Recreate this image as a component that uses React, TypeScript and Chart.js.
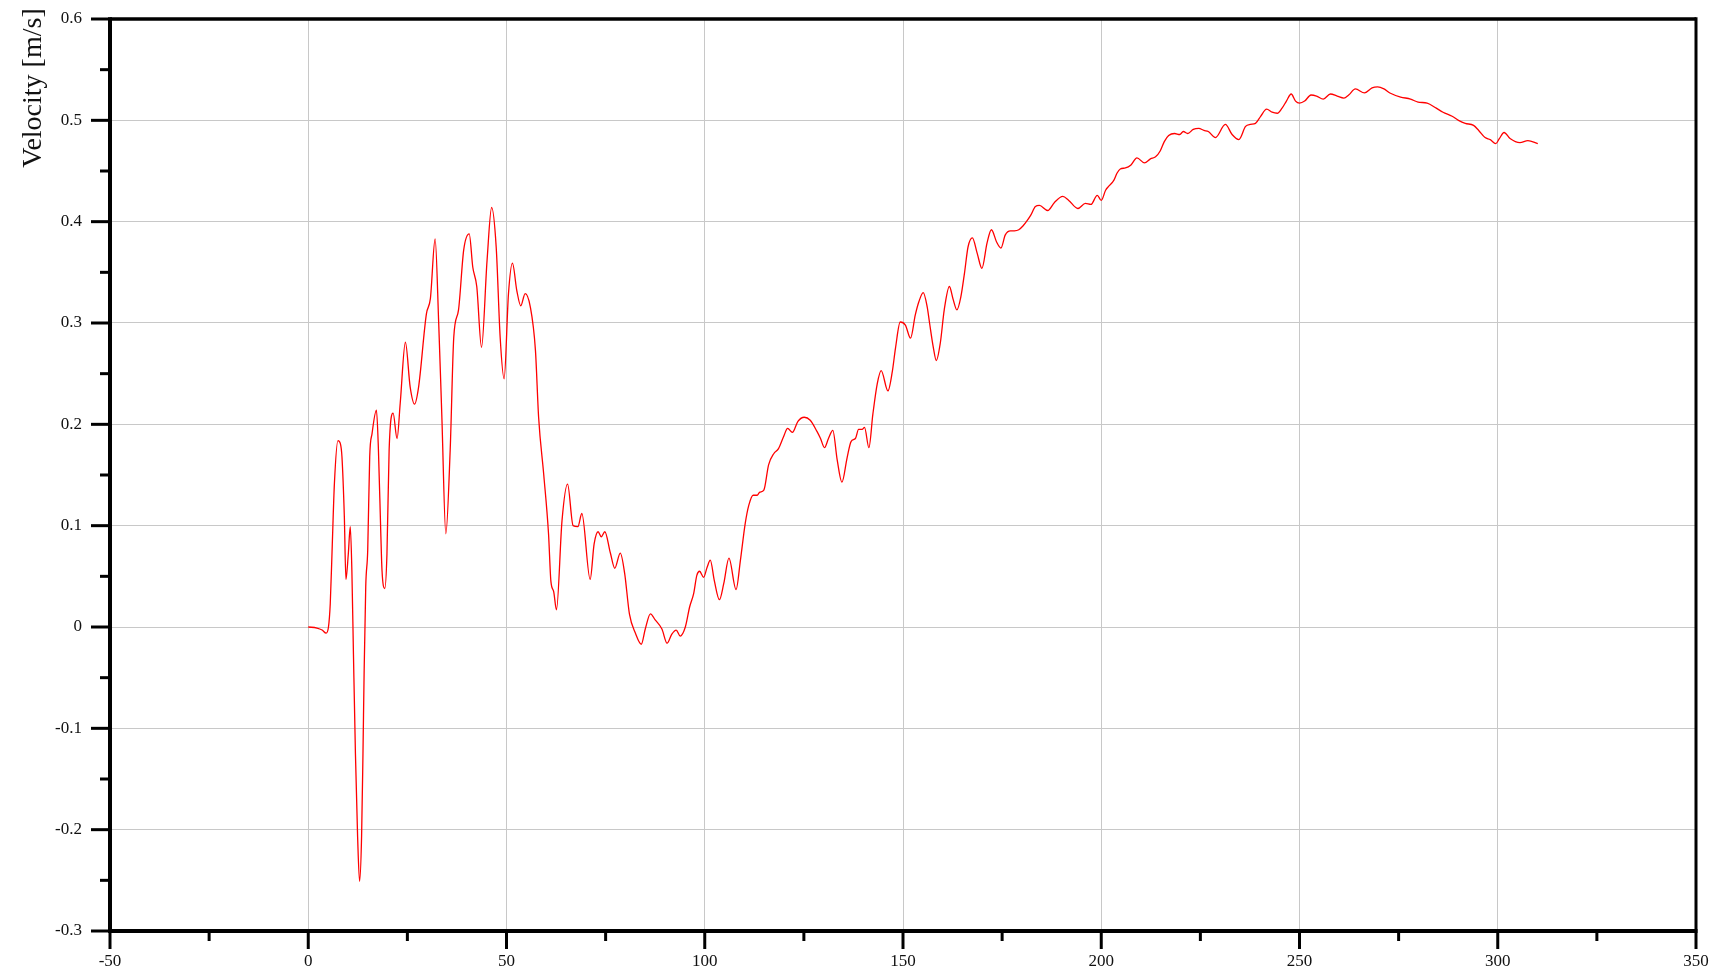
import React, { useEffect, useRef } from 'react';
import { Chart, registerables } from 'chart.js';

Chart.register(...registerables);

// ---- data (time [s] vs velocity [m/s]) ----
const timeValues: number[] = [
  0, 2.2, 3.5, 4.5, 5.1, 5.55, 6.0, 6.6, 7.5, 8.1, 8.5, 9.1, 9.5, 10.1, 10.6, 11.0, 11.4, 11.9, 12.45, 12.95,
  13.45, 13.8, 14.1, 14.5, 15.0, 15.5, 16.1, 17.2, 17.7, 18.3, 18.6, 19.3, 19.85, 20.4, 21.4, 22.4, 23.2, 24.5,
  25.7, 26.8, 27.8, 29.8, 30.8, 32.0, 32.9, 33.7, 34.7, 35.8, 36.7, 37.9, 39.2, 40.6, 41.5, 42.5, 43.7, 45.1,
  46.25, 47.4, 48.4, 49.4, 50.5, 51.5, 52.6, 53.6, 54.7, 56.0, 57.3, 58.1, 59.4, 60.6, 61.2, 61.9, 62.6, 64.0,
  65.4, 66.8, 68.0, 69.0, 71.1, 72.1, 73.1, 73.9, 74.8, 76.2, 77.3, 78.7, 79.8, 81.0, 82.5, 84.0, 85.0, 86.3,
  87.5, 89.2, 90.5, 91.7, 92.8, 93.8, 95.1, 96.2, 97.2, 98.0, 98.7, 99.7, 100.6, 101.4, 102.4, 103.7, 104.8,
  106.1, 107.9, 109.0, 110.2, 111.1, 112.2, 113.2, 113.9, 114.9, 116.1, 117.4, 118.6, 119.9, 120.9, 122.1,
  123.5, 125.1, 126.6, 128.3, 129.2, 130.2, 131.2, 132.3, 133.4, 134.6, 135.9, 136.9, 138.0, 138.8, 139.7,
  140.3, 141.4, 142.4, 143.5, 144.5, 146.2, 147.3, 148.1, 149.3, 150.6, 151.9, 153.1, 154.0, 155.1, 156.1,
  156.7, 157.6, 158.4, 159.4, 160.4, 161.7, 162.6, 163.6, 164.6, 165.5, 166.4, 167.5, 168.7, 169.9, 171.2,
  172.3, 173.6, 174.7, 175.8, 177.1, 178.1, 179.2, 180.3, 181.3, 182.3, 183.4, 184.4, 186.5, 188.2, 190.3,
  191.8, 194.1, 196.0, 197.4, 199.0, 200.0, 201.1, 201.9, 203.2, 204.0, 204.8, 206.1, 207.5, 209.0, 210.9,
  212.4, 213.7, 214.9, 215.9, 217.0, 218.5, 219.8, 220.7, 221.8, 223.2, 224.6, 225.9, 227.0, 228.8, 231.3,
  233.0, 234.7, 236.4, 237.6, 238.9, 240.2, 241.7, 243.1, 244.4, 245.6, 246.7, 247.9, 249.0, 250.0, 251.3,
  252.9, 254.3, 256.0, 257.8, 259.5, 261.2, 262.4, 264.1, 266.4, 268.3, 269.7, 271.3, 272.8, 275.5, 278.0,
  279.9, 282.2, 284.5, 286.2, 288.5, 290.1, 291.8, 293.9, 295.2, 296.8, 298.1, 299.5, 300.4, 301.6, 303.1,
  305.6, 307.6, 310.1,
];

const velocityValues: number[] = [
  0, -0.001, -0.003, -0.006, 0, 0.023, 0.074, 0.142, 0.184, 0.181, 0.168, 0.109, 0.047, 0.072, 0.099, 0.056, -0.027, -0.125, -0.207, -0.251,
  -0.207, -0.125, -0.043, 0.040, 0.076, 0.168, 0.191, 0.214, 0.175, 0.092, 0.056, 0.038, 0.072, 0.175, 0.211, 0.186, 0.221, 0.281,
  0.237, 0.220, 0.236, 0.309, 0.324, 0.383, 0.300, 0.207, 0.092, 0.175, 0.286, 0.313, 0.372, 0.388, 0.355, 0.336, 0.276, 0.362,
  0.414, 0.375, 0.286, 0.245, 0.329, 0.359, 0.332, 0.317, 0.329, 0.316, 0.273, 0.207, 0.150, 0.092, 0.045, 0.035, 0.017, 0.105,
  0.141, 0.100, 0.099, 0.112, 0.047, 0.082, 0.094, 0.089, 0.094, 0.073, 0.058, 0.073, 0.053, 0.013, -0.006, -0.017, -0.002, 0.013,
  0.007, -0.002, -0.016, -0.007, -0.003, -0.009, 0.0, 0.020, 0.033, 0.051, 0.055, 0.049, 0.059, 0.066, 0.046, 0.027, 0.043,
  0.068, 0.037, 0.066, 0.102, 0.120, 0.130, 0.130, 0.133, 0.135, 0.160, 0.171, 0.176, 0.188, 0.196, 0.192,
  0.203, 0.207, 0.204, 0.193, 0.186, 0.177, 0.186, 0.194, 0.165, 0.143, 0.167, 0.183, 0.186, 0.195, 0.195,
  0.197, 0.177, 0.210, 0.240, 0.253, 0.233, 0.252, 0.275, 0.301, 0.298, 0.285, 0.308, 0.321, 0.330, 0.316,
  0.300, 0.277, 0.263, 0.280, 0.313, 0.336, 0.324, 0.313, 0.326, 0.349, 0.375, 0.384, 0.369, 0.354, 0.379,
  0.392, 0.380, 0.374, 0.387, 0.391, 0.391, 0.392, 0.396, 0.401, 0.407, 0.415, 0.416, 0.411, 0.419, 0.425,
  0.421, 0.413, 0.418, 0.417, 0.426, 0.421, 0.431, 0.435, 0.441, 0.448, 0.452, 0.453, 0.456, 0.463, 0.458,
  0.462, 0.464, 0.470, 0.479, 0.485, 0.487, 0.486, 0.489, 0.487, 0.491, 0.492, 0.490, 0.489, 0.483, 0.496,
  0.486, 0.481, 0.494, 0.496, 0.497, 0.504, 0.511, 0.508, 0.507, 0.512, 0.519, 0.526, 0.519, 0.517, 0.519,
  0.525, 0.524, 0.521, 0.526, 0.524, 0.522, 0.525, 0.531, 0.527, 0.532, 0.533, 0.531, 0.527, 0.523, 0.521,
  0.518, 0.517, 0.512, 0.508, 0.504, 0.500, 0.497, 0.495, 0.490, 0.483, 0.481, 0.477, 0.482, 0.488, 0.482,
  0.478, 0.480, 0.477,
];

const xMajorTicks: number[] = [-50, 0, 50, 100, 150, 200, 250, 300, 350];
const yMajorTicks: number[] = [-0.3, -0.2, -0.1, 0, 0.1, 0.2, 0.3, 0.4, 0.5, 0.6];
const yAxisTitle = 'Velocity [m/s]';

const SERIF = '"Liberation Serif", "Times New Roman", serif';

const isMajor = (list: number[], v: number) => list.some((m) => Math.abs(m - v) < 1e-6);

const clearScalePadding = (s: any) => {
  s.paddingTop = 0;
  s.paddingBottom = 0;
  s.paddingLeft = 0;
  s.paddingRight = 0;
};

export default function App() {
  const ref = useRef<HTMLCanvasElement>(null);

  useEffect(() => {
    document.body.style.margin = '0';
    const canvas = ref.current;
    if (!canvas) return;

    const points = timeValues.map((t, i) => ({ x: t, y: velocityValues[i] }));

    const framePlugin = {
      id: 'frameAndTicks',
      afterDraw(chart: any) {
        const { ctx, chartArea: a, scales } = chart;
        const xs = scales.x;
        const ys = scales.y;
        ctx.save();
        ctx.strokeStyle = '#000';
        ctx.lineCap = 'butt';
        ctx.lineWidth = 3;
        ys.ticks.forEach((t: any, i: number) => {
          const py = ys.getPixelForTick(i);
          const len = isMajor(yMajorTicks, t.value) ? 19 : 10;
          ctx.beginPath();
          ctx.moveTo(a.left - len, py);
          ctx.lineTo(a.left, py);
          ctx.stroke();
        });
        xs.ticks.forEach((t: any, i: number) => {
          const px = xs.getPixelForTick(i);
          const len = isMajor(xMajorTicks, t.value) ? 18 : 10;
          ctx.beginPath();
          ctx.moveTo(px, a.bottom);
          ctx.lineTo(px, a.bottom + len);
          ctx.stroke();
        });
        // top and right frame
        ctx.lineWidth = 3.5;
        ctx.beginPath();
        ctx.moveTo(a.left, a.top);
        ctx.lineTo(a.right, a.top);
        ctx.stroke();
        ctx.lineWidth = 3;
        ctx.beginPath();
        ctx.moveTo(a.right, a.top - 1.75);
        ctx.lineTo(a.right, a.bottom);
        ctx.stroke();
        // left and bottom axes
        ctx.lineWidth = 4;
        ctx.beginPath();
        ctx.moveTo(a.left, a.top - 1.75);
        ctx.lineTo(a.left, a.bottom + 2);
        ctx.stroke();
        ctx.beginPath();
        ctx.moveTo(a.left - 2, a.bottom);
        ctx.lineTo(a.right + 1.5, a.bottom);
        ctx.stroke();
        // y axis title
        ctx.fillStyle = '#111';
        ctx.font = `28px ${SERIF}`;
        ctx.textAlign = 'center';
        ctx.textBaseline = 'middle';
        ctx.translate(34, 88);
        ctx.rotate(-Math.PI / 2);
        ctx.fillText(yAxisTitle, 0, 0);
        ctx.restore();
      },
    };

    const chart = new Chart(canvas, {
      type: 'line',
      data: {
        datasets: [
          {
            data: points,
            borderColor: '#ff0000',
            borderWidth: 1.3,
            pointRadius: 0,
            fill: false,
            cubicInterpolationMode: 'monotone',
          } as any,
        ],
      },
      options: {
        animation: false,
        responsive: false,
        devicePixelRatio: 1,
        layout: { padding: { left: 0, top: 19, right: 26, bottom: 0 } },
        plugins: { legend: { display: false }, tooltip: { enabled: false } },
        scales: {
          x: {
            type: 'linear',
            min: -50,
            max: 350,
            afterFit: (s: any) => {
              s.height = 49;
              clearScalePadding(s);
            },
            ticks: {
              stepSize: 25,
              autoSkip: false,
              maxRotation: 0,
              padding: 20,
              color: '#111',
              font: { family: SERIF, size: 17 },
              callback: (v: any) => (isMajor(xMajorTicks, Number(v)) ? String(Math.round(Number(v))) : ''),
            },
            grid: {
              drawTicks: false,
              lineWidth: 1,
              color: (c: any) => (c.tick && isMajor(xMajorTicks, c.tick.value) ? '#c8c8c8' : 'rgba(0,0,0,0)'),
            },
            border: { display: false },
          },
          y: {
            type: 'linear',
            min: -0.3,
            max: 0.6,
            afterFit: (s: any) => {
              s.width = 110;
              clearScalePadding(s);
            },
            ticks: {
              stepSize: 0.05,
              autoSkip: false,
              padding: 28,
              color: '#111',
              font: { family: SERIF, size: 17 },
              callback: (v: any) => (isMajor(yMajorTicks, Number(v)) ? String(Math.round(Number(v) * 10) / 10) : ''),
            },
            grid: {
              drawTicks: false,
              lineWidth: 1,
              color: (c: any) => (c.tick && isMajor(yMajorTicks, c.tick.value) ? '#c8c8c8' : 'rgba(0,0,0,0)'),
            },
            border: { display: false },
          },
        },
      },
      plugins: [framePlugin],
    });

    return () => chart.destroy();
  }, []);

  return (
    <div style={{ position: 'absolute', left: 0, top: 0, width: 1722, height: 980, background: '#fff' }}>
      <canvas ref={ref} width={1722} height={980} style={{ display: 'block' }} />
    </div>
  );
}
